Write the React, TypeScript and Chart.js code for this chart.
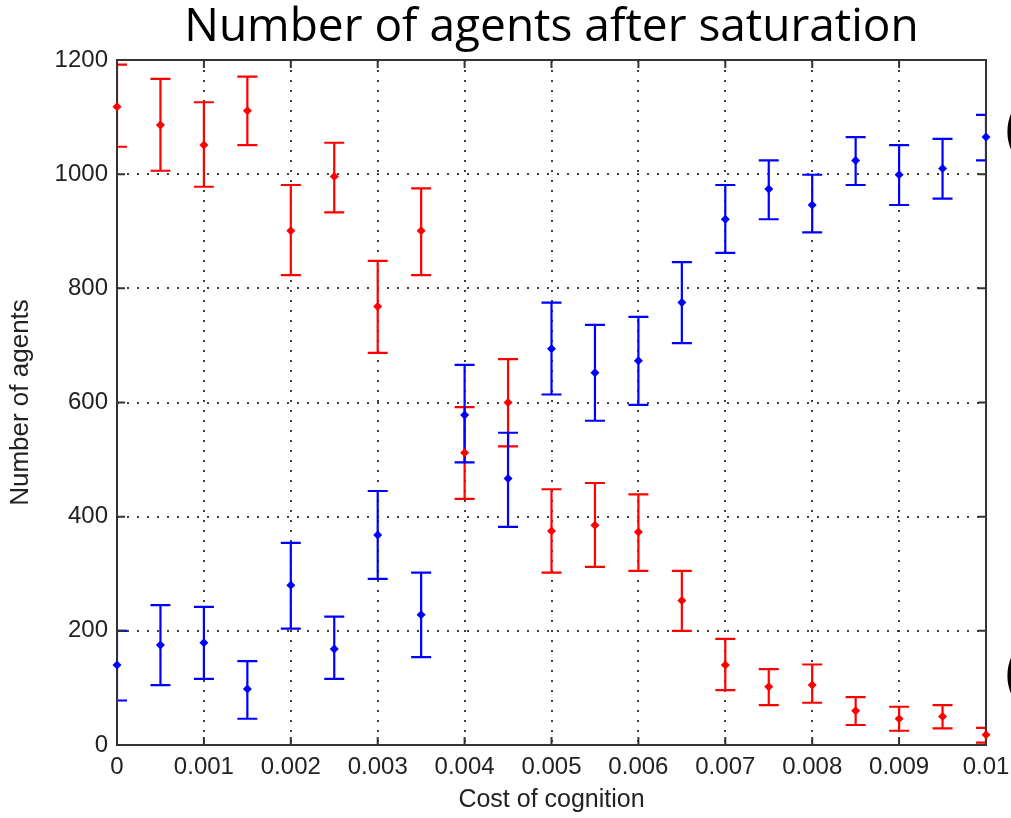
import React, { useEffect, useRef } from "react";
import { Chart, registerables } from "chart.js";

Chart.register(...registerables);

// ---- data ----
const costValues = [
  0, 0.0005, 0.001, 0.0015, 0.002, 0.0025, 0.003, 0.0035, 0.004, 0.0045, 0.005,
  0.0055, 0.006, 0.0065, 0.007, 0.0075, 0.008, 0.0085, 0.009, 0.0095, 0.01,
];
const redMean = [1118, 1086, 1051, 1111, 901, 996, 768, 901, 512, 600, 375, 385, 373, 253, 140, 102, 105, 60, 46, 50, 18];
const redLow = [1048, 1006, 978, 1051, 823, 933, 687, 823, 431, 523, 302, 312, 305, 200, 96, 70, 74, 35, 25, 29, 4];
const redHigh = [1192, 1167, 1126, 1171, 981, 1055, 848, 975, 592, 676, 448, 459, 439, 305, 186, 133, 141, 84, 67, 70, 30];
const blueMean = [140, 175, 179, 98, 280, 168, 368, 228, 578, 467, 694, 652, 673, 775, 921, 974, 946, 1024, 999, 1010, 1065];
const blueLow = [78, 105, 116, 46, 204, 116, 291, 154, 495, 382, 614, 568, 596, 704, 862, 921, 898, 981, 946, 957, 1024];
const blueHigh = [200, 245, 242, 147, 354, 225, 445, 302, 666, 547, 775, 736, 750, 846, 981, 1024, 999, 1065, 1051, 1062, 1104];
const xTickLabels = ["0", "0.001", "0.002", "0.003", "0.004", "0.005", "0.006", "0.007", "0.008", "0.009", "0.01"];
const yTickLabels = ["0", "200", "400", "600", "800", "1000", "1200"];

const TICK_FONT = "'Liberation Sans', Arial, sans-serif";

const errorBarPlugin = {
  id: "errorBars",
  beforeDatasetsDraw(chart: any) {
    const { ctx, chartArea, scales } = chart;
    const x = scales.x;
    const y = scales.y;
    ctx.save();
    ctx.beginPath();
    ctx.rect(chartArea.left, chartArea.top, chartArea.right - chartArea.left, chartArea.bottom - chartArea.top);
    ctx.clip();
    chart.data.datasets.forEach((ds: any) => {
      ctx.strokeStyle = ds.borderColor;
      ctx.lineWidth = 2.2;
      ds.data.forEach((pt: any, i: number) => {
        const px = x.getPixelForValue(pt.x);
        const yl = y.getPixelForValue(ds.errLow[i]);
        const yh = y.getPixelForValue(ds.errHigh[i]);
        ctx.beginPath();
        ctx.moveTo(px, yl);
        ctx.lineTo(px, yh);
        ctx.moveTo(px - 10, yl);
        ctx.lineTo(px + 10, yl);
        ctx.moveTo(px - 10, yh);
        ctx.lineTo(px + 10, yh);
        ctx.stroke();
      });
    });
    ctx.restore();

    // frame and inward ticks (MATLAB style)
    const { left, right, top, bottom } = chartArea;
    ctx.save();
    ctx.strokeStyle = "#333";
    ctx.lineWidth = 2;
    ctx.strokeRect(left, top, right - left, bottom - top);
    ctx.beginPath();
    x.ticks.forEach((t: any) => {
      const px = x.getPixelForValue(t.value);
      ctx.moveTo(px, bottom);
      ctx.lineTo(px, bottom - 8);
      ctx.moveTo(px, top);
      ctx.lineTo(px, top + 8);
    });
    y.ticks.forEach((t: any) => {
      const py = y.getPixelForValue(t.value);
      ctx.moveTo(left, py);
      ctx.lineTo(left + 8, py);
      ctx.moveTo(right, py);
      ctx.lineTo(right - 8, py);
    });
    ctx.stroke();
    ctx.restore();
  },
};

export default function App() {
  const canvasRef = useRef<HTMLCanvasElement | null>(null);

  useEffect(() => {
    if (!canvasRef.current) return;
    const mk = (ys: number[]) => ys.map((v, i) => ({ x: costValues[i], y: v }));
    const gridOpts = {
      color: "rgba(30,30,30,0.85)",
      lineWidth: 2,
      drawTicks: false,
    };
    const chart = new Chart(canvasRef.current, {
      type: "scatter",
      data: {
        datasets: [
          {
            label: "red",
            data: mk(redMean),
            errLow: redLow,
            errHigh: redHigh,
            borderColor: "#ff0000",
            backgroundColor: "#ff0000",
            pointStyle: "rectRot",
            pointRadius: 4.5,
            pointBorderWidth: 0,
            clip: false,
          } as any,
          {
            label: "blue",
            data: mk(blueMean),
            errLow: blueLow,
            errHigh: blueHigh,
            borderColor: "#0000ff",
            backgroundColor: "#0000ff",
            pointStyle: "rectRot",
            pointRadius: 4.5,
            pointBorderWidth: 0,
            clip: false,
          } as any,
        ],
      },
      options: {
        animation: false,
        responsive: true,
        maintainAspectRatio: false,
        layout: { padding: { left: 0, right: 25, top: 0, bottom: 0 } },
        plugins: {
          legend: { display: false },
          tooltip: { enabled: false },
          title: {
            display: true,
            fullSize: false,
            text: "Number of agents after saturation",
            color: "#000",
            font: { family: "'Open Sans', 'Noto Sans', sans-serif", size: 46, weight: "normal", lineHeight: 1.2 },
            padding: { top: 0, bottom: 4.8 },
          },
        },
        scales: {
          x: {
            type: "linear",
            min: 0,
            max: 0.01,
            afterFit: (scale: any) => {
              scale.height = 73;
              scale.paddingLeft = 0;
              scale.paddingRight = 0;
            },
            ticks: {
              stepSize: 0.001,
              autoSkip: false,
              maxRotation: 0,
              padding: 8,
              color: "#222",
              font: { family: TICK_FONT, size: 24 },
              callback: (_v: any, i: number) => xTickLabels[i],
            },
            grid: gridOpts,
            border: { display: false, dash: [2, 8] },
            title: {
              display: true,
              text: "Cost of cognition",
              color: "#222",
              font: { family: TICK_FONT, size: 25, lineHeight: 1.2 },
              padding: { top: 0, bottom: 3 },
            },
          },
          y: {
            type: "linear",
            min: 0,
            max: 1200,
            afterFit: (scale: any) => {
              scale.width = 117;
            },
            ticks: {
              stepSize: 200,
              padding: 9,
              color: "#222",
              font: { family: TICK_FONT, size: 24 },
              callback: (_v: any, i: number) => yTickLabels[i],
            },
            grid: gridOpts,
            border: { display: false, dash: [2, 8] },
            title: {
              display: true,
              text: "Number of agents",
              color: "#222",
              font: { family: TICK_FONT, size: 26, lineHeight: 1.2 },
              padding: { top: 5, bottom: 0 },
            },
          },
        },
      } as any,
      plugins: [errorBarPlugin],
    });
    return () => chart.destroy();
  }, []);

  const parenStyle: React.CSSProperties = {
    position: "absolute",
    left: 1005,
    fontFamily: "'Open Sans', sans-serif",
    fontSize: 60,
    lineHeight: "60px",
    color: "#000",
    whiteSpace: "nowrap",
  };

  return (
    <div
      style={{
        position: "fixed",
        left: 0,
        top: 0,
        width: 1011,
        height: 818,
        overflow: "hidden",
        background: "#fff",
      }}
    >
      <canvas ref={canvasRef} style={{ position: "absolute", left: 0, top: 0 }} />
      <span style={{ ...parenStyle, top: 95 }}>(</span>
      <span style={{ ...parenStyle, top: 639 }}>(</span>
    </div>
  );
}
